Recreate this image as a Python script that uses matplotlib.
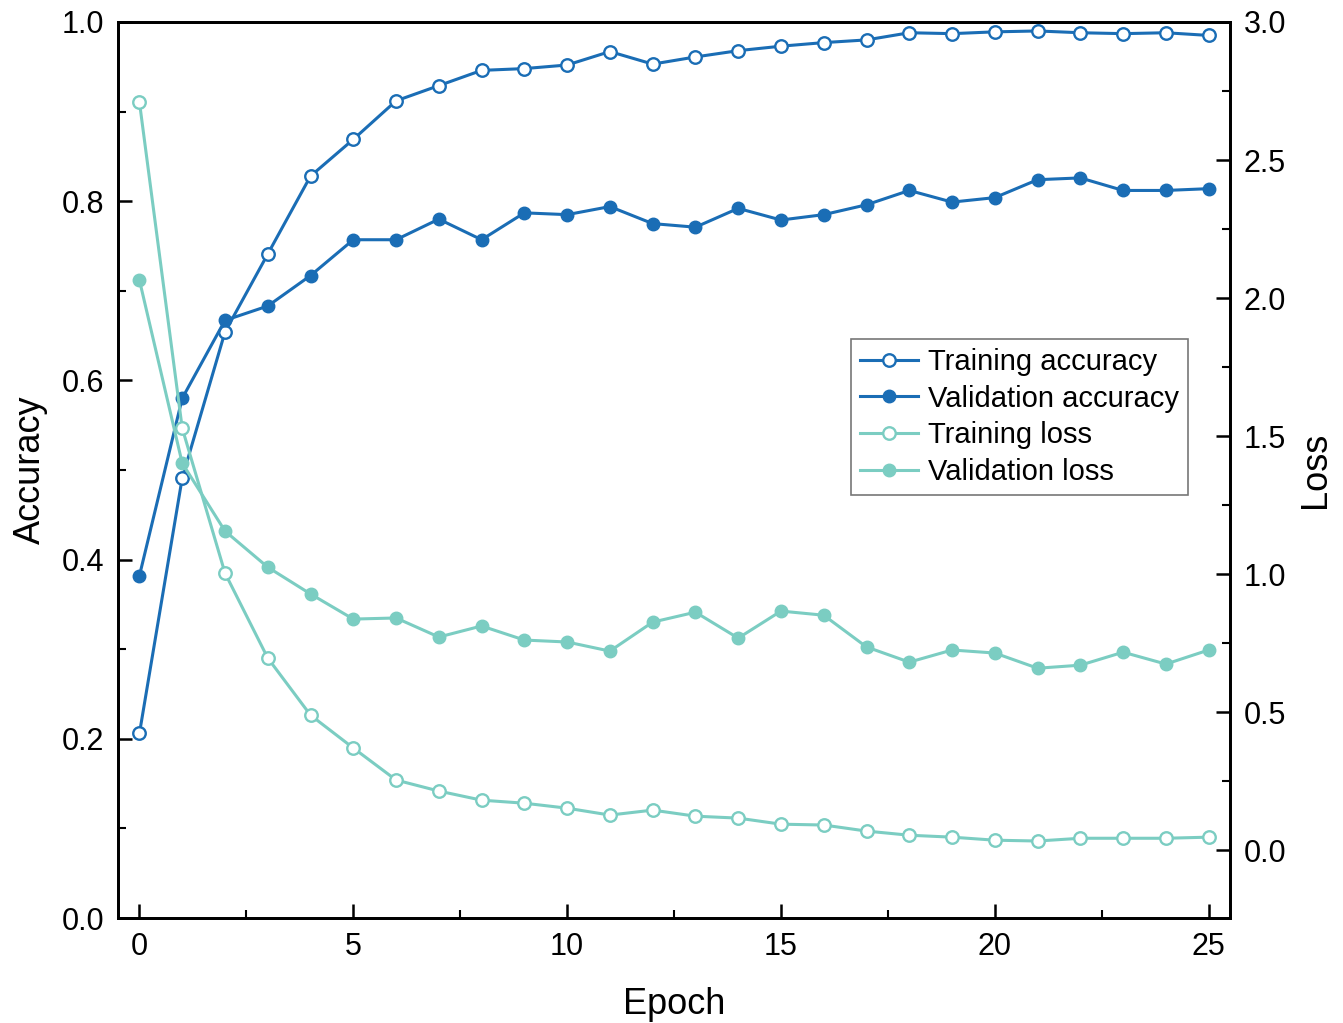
import matplotlib
matplotlib.use("Agg")
import matplotlib.pyplot as plt
from matplotlib.ticker import MultipleLocator

plt.rcParams['font.family'] = ['Liberation Sans', 'DejaVu Sans']

epochs = list(range(26))
train_acc = [0.206, 0.491, 0.654, 0.741, 0.828, 0.869, 0.912, 0.929, 0.946, 0.948,
             0.952, 0.967, 0.953, 0.961, 0.968, 0.973, 0.977, 0.980, 0.988, 0.987,
             0.989, 0.990, 0.988, 0.987, 0.988, 0.985]
val_acc = [0.382, 0.580, 0.667, 0.683, 0.717, 0.757, 0.757, 0.780, 0.757, 0.787,
           0.785, 0.794, 0.775, 0.771, 0.792, 0.779, 0.785, 0.796, 0.812, 0.799,
           0.804, 0.824, 0.826, 0.812, 0.812, 0.814]
train_loss = [2.710, 1.529, 1.004, 0.696, 0.489, 0.370, 0.254, 0.214, 0.181, 0.170,
              0.152, 0.127, 0.145, 0.123, 0.116, 0.094, 0.091, 0.069, 0.054, 0.047,
              0.036, 0.033, 0.043, 0.043, 0.043, 0.047]
val_loss = [2.065, 1.402, 1.156, 1.025, 0.928, 0.837, 0.841, 0.772, 0.812, 0.761,
            0.754, 0.721, 0.826, 0.862, 0.768, 0.866, 0.851, 0.736, 0.681, 0.725,
            0.714, 0.659, 0.670, 0.717, 0.674, 0.725]

blue = '#1a6db5'
teal = '#7bcdc2'

fig = plt.figure(figsize=(13.43, 10.23), dpi=100)
ax = fig.add_axes([0.0879, 0.1026, 0.8280, 0.8759])
ax2 = ax.twinx()

lw = 2.2
ms = 9
l1, = ax.plot(epochs, train_acc, color=blue, lw=lw, marker='o', ms=ms,
              mfc='white', mec=blue, mew=1.7, label='Training accuracy')
l2, = ax.plot(epochs, val_acc, color=blue, lw=lw, marker='o', ms=ms,
              mfc=blue, mec=blue, label='Validation accuracy')
l3, = ax2.plot(epochs, train_loss, color=teal, lw=lw, marker='o', ms=ms,
               mfc='white', mec=teal, mew=1.7, label='Training loss')
l4, = ax2.plot(epochs, val_loss, color=teal, lw=lw, marker='o', ms=ms,
               mfc=teal, mec=teal, label='Validation loss')

ax.set_xlim(-0.5, 25.5)
ax.set_ylim(0, 1.0)
ax2.set_ylim(-0.246, 3.0)

ax.xaxis.set_major_locator(MultipleLocator(5))
ax.xaxis.set_minor_locator(MultipleLocator(2.5))
ax.yaxis.set_major_locator(MultipleLocator(0.2))
ax.yaxis.set_minor_locator(MultipleLocator(0.1))
ax2.yaxis.set_major_locator(MultipleLocator(0.5))
ax2.yaxis.set_minor_locator(MultipleLocator(0.25))

ax.yaxis.set_major_formatter(matplotlib.ticker.FormatStrFormatter('%.1f'))
ax2.yaxis.set_major_formatter(matplotlib.ticker.FormatStrFormatter('%.1f'))

for a in (ax, ax2):
    for s in a.spines.values():
        s.set_linewidth(2.0)
        s.set_color('black')

ax.tick_params(axis='both', which='major', direction='in', length=10, width=1.8,
               labelsize=22, pad=10, top=False)
ax.tick_params(axis='both', which='minor', direction='in', length=6, width=1.5, top=False)
ax.tick_params(axis='y', which='both', right=False)
ax2.tick_params(axis='y', which='major', direction='in', length=10, width=1.8,
                labelsize=22, pad=10)
ax2.tick_params(axis='y', which='minor', direction='in', length=6, width=1.5)

ax.set_xlabel('Epoch', fontsize=26, labelpad=18)
ax.set_ylabel('Accuracy', fontsize=26, labelpad=10)
ax2.set_ylabel('Loss', fontsize=26, labelpad=8)

leg = ax2.legend(handles=[l1, l2, l3, l4], loc='upper left',
                 bbox_to_anchor=(0.659, 0.646), borderaxespad=0,
                 fontsize=21, frameon=True, fancybox=False, edgecolor='#555555',
                 handlelength=2.0, handletextpad=0.35, labelspacing=0.3,
                 borderpad=0.3)
leg.get_frame().set_linewidth(1.2)

fig.savefig('out.png', dpi=100)
